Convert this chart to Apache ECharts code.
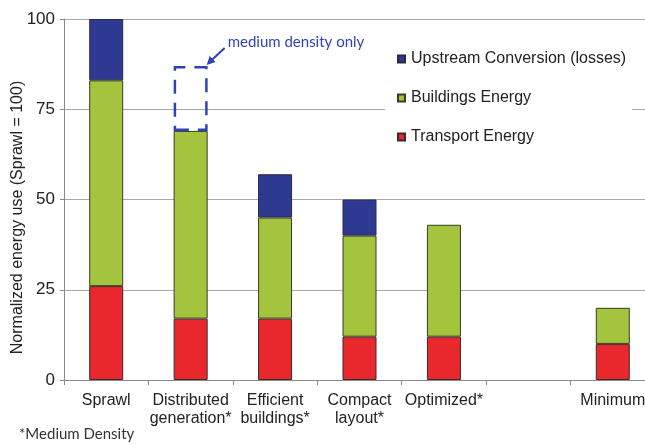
<!DOCTYPE html>
<html><head><meta charset="utf-8">
<script src="https://cdn.jsdelivr.net/npm/echarts@6/dist/echarts.min.js"></script>
<style>html,body{margin:0;padding:0;background:#fff}#c{width:645px;height:444px}</style>
</head><body><div id="c"></div>
<script>
var categories = ['Sprawl', 'Distributed\ngeneration*', 'Efficient\nbuildings*', 'Compact\nlayout*', 'Optimized*', '', 'Minimum'];
var transport = [26, 17, 17, 12, 12, null, 10];
var buildings = [57, 52, 28, 28, 31, null, 10];
var upstream = [17, null, 12, 10, null, null, null];
var mediumOnly = [null, 18, null, null, null, null, null];
var yTicks = [0, 25, 50, 75, 100];

var chart = echarts.init(document.getElementById('c'));
var txt = '#222';
var option = {
  animation: false,
  backgroundColor: '#fff',
  grid: {left: 64, right: -10, top: 19, bottom: 64, containLabel: false, outerBoundsMode: 'none'},
  legend: {
    orient: 'vertical', left: 385, top: 42,
    padding: [9, 6, 8, 12],
    backgroundColor: '#fff',
    itemWidth: 7, itemHeight: 7, itemGap: 23,
    icon: 'rect',
    data: ['Upstream Conversion (losses)', 'Buildings Energy', 'Transport Energy'],
    textStyle: {fontFamily: 'Liberation Sans', fontSize: 16, color: txt, padding: [0, 0, 0, 1]}
  },
  xAxis: {
    type: 'category', data: categories,
    axisLine: {lineStyle: {color: '#888'}},
    axisTick: {show: true, length: 5, lineStyle: {color: '#888'}},
    axisLabel: {fontFamily: 'Liberation Sans', fontSize: 16, color: txt, lineHeight: 18, margin: 12, interval: 0}
  },
  yAxis: {
    type: 'value', min: yTicks[0], max: yTicks[yTicks.length - 1], interval: 25,
    name: 'Normalized energy use (Sprawl = 100)',
    nameLocation: 'middle', nameRotate: 90, nameGap: 38, nameMoveOverlap: false,
    nameTextStyle: {fontFamily: 'Liberation Sans', fontSize: 16, color: txt, padding: [0, 36, 0, 0]},
    axisLine: {show: true, lineStyle: {color: '#888'}},
    axisTick: {show: true, length: 4, lineStyle: {color: '#888'}},
    axisLabel: {fontFamily: 'Liberation Sans', fontSize: 17, color: txt, margin: 9},
    splitLine: {lineStyle: {color: '#a8a8a8'}}
  },
  series: [
    {name: 'Transport Energy', type: 'bar', stack: 'e', barWidth: 34, data: transport,
      itemStyle: {color: '#e8282c', borderColor: '#3a2a2a', borderWidth: 1}},
    {name: 'Buildings Energy', type: 'bar', stack: 'e', data: buildings,
      itemStyle: {color: '#a3c43c', borderColor: '#3a3a2a', borderWidth: 1}},
    {name: 'Upstream Conversion (losses)', type: 'bar', stack: 'e', data: upstream,
      itemStyle: {color: '#2e3a92', borderColor: '#2a2a44', borderWidth: 1}},
    {name: 'medium', type: 'bar', stack: 'e', data: mediumOnly,
      itemStyle: {color: 'rgba(0,0,0,0)', borderColor: '#2f43b8', borderWidth: 2.5, borderType: [14, 9]}}
  ]
};
chart.setOption(option);

var p = chart.convertToPixel({gridIndex: 0}, [1, 87]);
chart.setOption({
  graphic: [
    {type: 'text', left: p[0] + 37, top: p[1] - 31,
      style: {text: 'medium density only', fontFamily: 'Lato', fontSize: 15, fill: '#3344bb'}},
    {type: 'line', shape: {x1: p[0] + 34, y1: p[1] - 18, x2: p[0] + 19, y2: p[1] - 4},
      style: {stroke: '#2f43b8', lineWidth: 2}},
    {type: 'polygon', shape: {points: [[p[0] + 16, p[1] - 1], [p[0] + 19, p[1] - 10], [p[0] + 25, p[1] - 4]]},
      style: {fill: '#2f43b8'}},
    {type: 'text', left: 19, top: 427,
      style: {text: '*Medium Density', fontFamily: 'Lato', fontSize: 15, fill: '#333'}}
  ]
});
</script></body></html>
